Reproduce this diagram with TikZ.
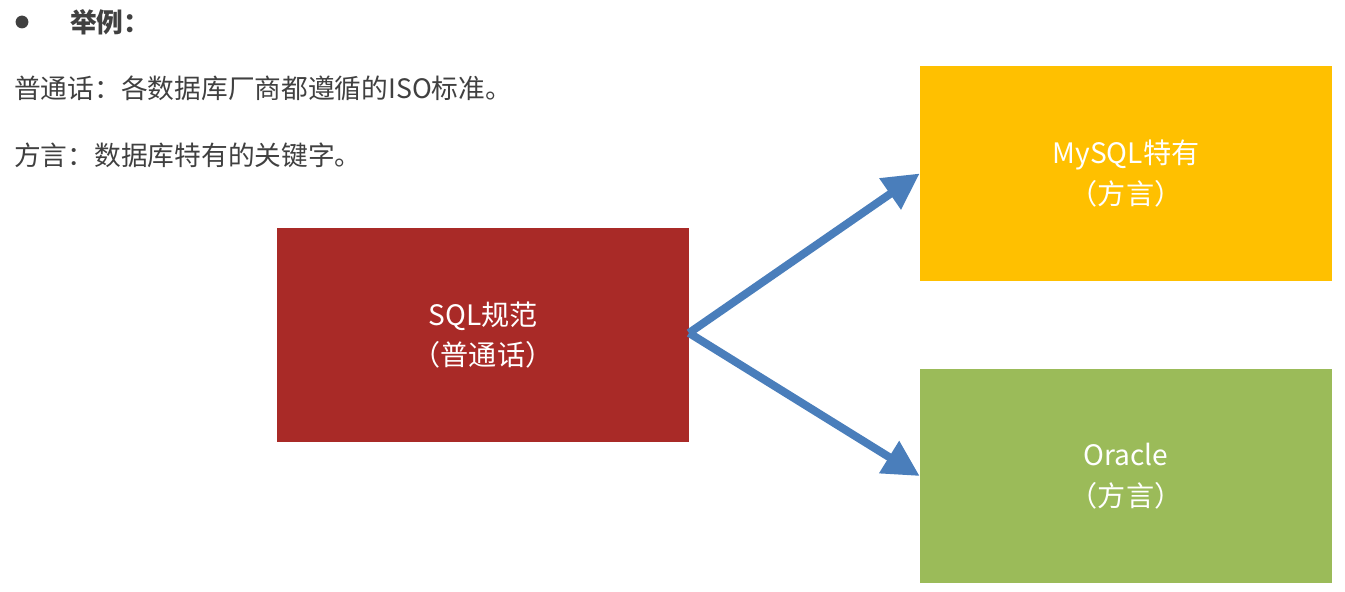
\documentclass[tikz,border=0pt]{standalone}
\usepackage{fontspec}
\setmainfont{Noto Sans CJK SC}
\newfontfamily\cjk{Noto Sans CJK SC}
\usetikzlibrary{arrows.meta, positioning}
\definecolor{sql_red}{RGB}{169, 42, 39}
\definecolor{sql_yellow}{RGB}{255, 192, 0}
\definecolor{sql_green}{RGB}{155, 187, 89}
\definecolor{sql_blue}{RGB}{74, 126, 187}
\definecolor{sql_text}{RGB}{64, 64, 64}
\begin{document}
\begin{tikzpicture}[x=0.025cm, y=-0.025cm,
            txt/.style={anchor=west, inner sep=0pt, font=\cjk\fontsize{19}{23}\selectfont, text=sql_text},
            blk/.style={minimum width=10.3cm, minimum height=5.35cm, inner sep=0pt, align=center,
                        text=white, font=\cjk\fontsize{20}{29}\selectfont},
            arr/.style={-{Triangle[length=0.9cm, width=0.9cm]}, line width=0.2cm, sql_blue}]
  \useasboundingbox (0,0) rectangle (1345,591);
  \node[circle, fill=sql_text, inner sep=0pt, minimum size=0.32cm] (dot) at (22,22) {};
  \node[txt, font=\cjk\bfseries\fontsize{19}{23}\selectfont] (ex) at (70,22) {举例：};
  \node[txt] (l1) at (14,88) {普通话：各数据库厂商都遵循的ISO标准。};
  \node[txt] (l2) at (14,155) {方言：数据库特有的关键字。};
  \node[blk, fill=sql_red] (sql) at (483,335) {SQL规范\\（普通话）};
  \node[blk, fill=sql_yellow] (my) at (1126,173.5) {MySQL特有\\（方言）};
  \node[blk, fill=sql_green] (ora) at (1126,476) {Oracle\\（方言）};
  \coordinate (fork) at (689,333);
  \draw[arr] (fork) -- (my.west);
  \draw[arr] (fork) -- (ora.west);
\end{tikzpicture}
\end{document}
